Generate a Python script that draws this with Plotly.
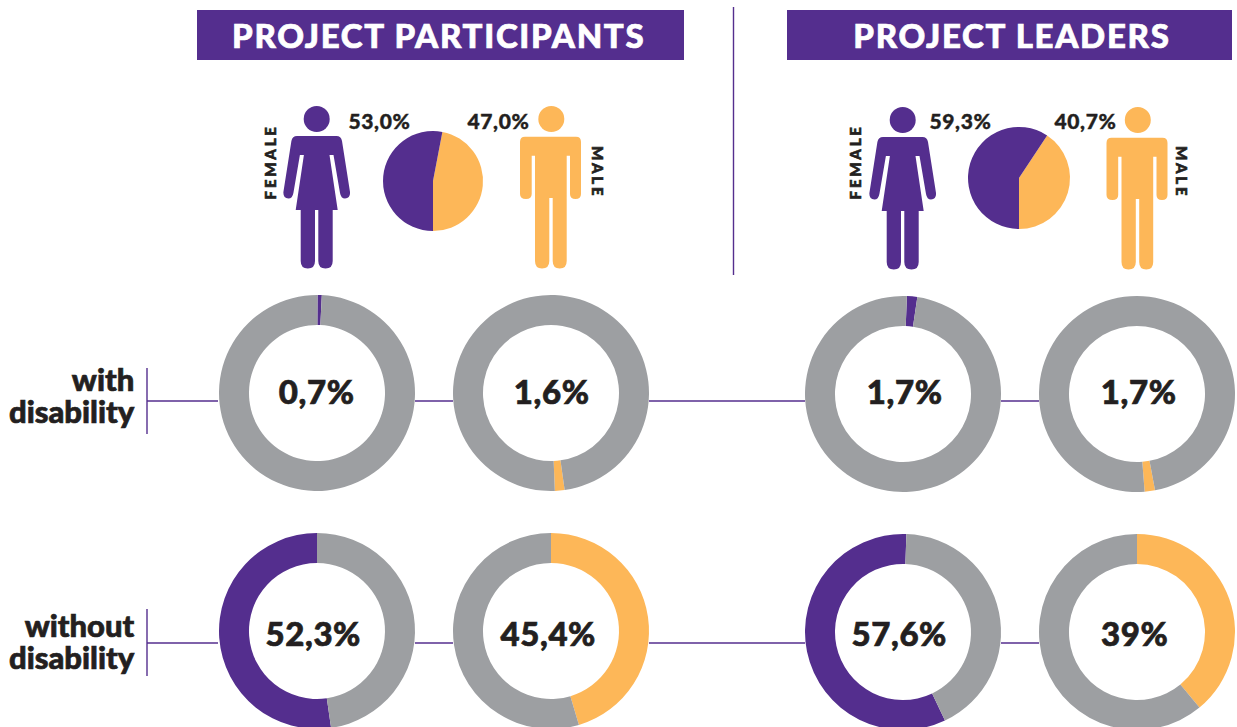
import plotly.graph_objects as go

W, H = 1237, 740  # page clips at 727, the bottom rings run slightly past it
PURPLE, ORANGE, GRAY, INK = "#542E8E", "#FDB758", "#9D9FA2", "#231F20"
FONT = "Lato"

# ---- data ----
headers = ["PROJECT PARTICIPANTS", "PROJECT LEADERS"]
participants_gender = [53.0, 47.0]
leaders_gender = [59.3, 40.7]
gender_text = ["53,0%", "47,0%", "59,3%", "40,7%"]
row_labels = ["with<br>disability", "without<br>disability"]
with_disability = [0.7, 1.6, 1.7, 1.7]
without_disability = [52.3, 45.4, 57.6, 39.0]
with_text = ["0,7%", "1,6%", "1,7%", "1,7%"]
without_text = ["52,3%", "45,4%", "57,6%", "39%"]

# ---- layout helpers ----
def domain(cx, cy, r):
    return dict(x=[(cx - r) / W, (cx + r) / W], y=[1 - (cy + r) / H, 1 - (cy - r) / H])

def pie(vals, colors, cx, cy, r, hole=0, rotation=0):
    return go.Pie(values=vals, marker=dict(colors=colors, line=dict(width=0)), domain=domain(cx, cy, r),
                  hole=hole, rotation=rotation, direction="clockwise", sort=False,
                  textinfo="none", hoverinfo="skip", showlegend=False)

fig = go.Figure()

# gender pies
fig.add_trace(pie(participants_gender[::-1], [ORANGE, PURPLE], 433, 181, 50, rotation=180 - participants_gender[1] * 3.6))
fig.add_trace(pie(leaders_gender[::-1], [ORANGE, PURPLE], 1019, 178, 51, rotation=180 - leaders_gender[1] * 3.6))

# rings
HOLE = 0.694
cols = [317, 551, 903, 1137]
ring_colors = [PURPLE, ORANGE, PURPLE, ORANGE]
rot_top = [0.3, 172, 2.3, 169.4]
# purple arcs run back from the top (so they start value*3.6 degrees before it), orange arcs run forward from it
rot_bot = [-without_disability[0] * 3.6, 0, 2 - without_disability[2] * 3.6, 0]
y_top = [393, 393, 394, 394]
y_bot = [631, 631, 632, 632]
for i, cx in enumerate(cols):
    fig.add_trace(pie([with_disability[i], 100 - with_disability[i]], [ring_colors[i], GRAY], cx, y_top[i], 98,
                      hole=HOLE, rotation=rot_top[i]))
    fig.add_trace(pie([without_disability[i], 100 - without_disability[i]], [ring_colors[i], GRAY], cx, y_bot[i], 98,
                      hole=HOLE, rotation=rot_bot[i]))

# ---- decorations in page pixels ----
shapes = []
def line(x0, y0, x1, y1, w=1.4):
    shapes.append(dict(type="line", x0=x0, y0=y0, x1=x1, y1=y1, line=dict(color=PURPLE, width=w), layer="below"))

def rect(x0, y0, x1, y1):
    shapes.append(dict(type="rect", x0=x0, y0=y0, x1=x1, y1=y1, fillcolor=PURPLE, line=dict(width=0), layer="below"))

def icon(p, dx, dy, color, head_x):
    d = ""
    for s in p:
        c = s[0]
        if c == "H":
            d += f"H{s[1] + dx} "
        elif c == "V":
            d += f"V{s[1] + dy} "
        else:
            vals = [v + (dx if k % 2 == 0 else dy) for k, v in enumerate(s[1:])]
            d += c + ",".join(f"{v}" for v in vals) + " "
    shapes.append(dict(type="path", path=d + "Z", fillcolor=color, line=dict(width=0)))
    shapes.append(dict(type="circle", x0=head_x + dx - 13, x1=head_x + dx + 13, y0=119 + dy - 13, y1=119 + dy + 13,
                       fillcolor=color, line=dict(width=0)))

def woman(dx, dy):
    p = [("M", 297, 136), ("H", 336.5), ("Q", 341, 136, 342, 141), ("L", 350, 192), ("Q", 350.5, 198.5, 345, 198.5),
         ("Q", 341, 198.5, 340, 193), ("L", 333.5, 155), ("H", 329.5), ("L", 337.7, 210), ("H", 332.7), ("V", 261),
         ("Q", 332.7, 268.5, 325.5, 268.5), ("Q", 318.3, 268.5, 318.3, 261), ("V", 210), ("H", 315), ("V", 261),
         ("Q", 315, 268.5, 307.8, 268.5), ("Q", 300.7, 268.5, 300.7, 261), ("V", 210), ("H", 295.7), ("L", 303.9, 155),
         ("H", 299.9), ("L", 293.4, 193), ("Q", 292.4, 198.5, 288.4, 198.5), ("Q", 283, 198.5, 283.4, 192),
         ("L", 291.4, 141), ("Q", 292.4, 136, 297, 136)]
    icon(p, dx, dy, PURPLE, 316.7)

def man(dx, dy):
    p = [("M", 525, 136.7), ("H", 576), ("Q", 581, 136.7, 581, 142), ("V", 194), ("Q", 581, 199, 575.5, 199),
         ("Q", 570, 199, 570, 194), ("V", 155.7), ("H", 566.7), ("V", 261), ("Q", 566.7, 268.5, 559.7, 268.5),
         ("Q", 552.7, 268.5, 552.7, 261), ("V", 198), ("H", 549.3), ("V", 261), ("Q", 549.3, 268.5, 542, 268.5),
         ("Q", 535, 268.5, 535, 261), ("V", 155.7), ("H", 531.7), ("V", 194), ("Q", 531.7, 199, 526, 199),
         ("Q", 520, 199, 520, 194), ("V", 142), ("Q", 520, 136.7, 525, 136.7)]
    icon(p, dx, dy, ORANGE, 551.3)

rect(197, 10, 684, 60)
rect(787, 10, 1232, 60)
line(733.5, 7, 733.5, 275)
woman(0, 0); man(0, 0); woman(586, 1); man(586.5, 1)
for y, y0, y1 in [(401, 368, 434), (643, 609, 676)]:
    line(147, y0, 147, y1)
    for x0, x1 in [(147, 218), (415, 453), (649, 805), (1001, 1039)]:
        line(x0, y, x1, y)

# ---- text ----
ann = []
def text(x, y, s, size, color=INK, anchor="center", angle=0, align="center"):
    ann.append(dict(x=x, y=y, xref="x", yref="y", text=s, showarrow=False, xanchor=anchor, yanchor="middle",
                    textangle=angle, align=align, font=dict(family=FONT, size=size, color=color, weight=900)))

text(438, 34.5, headers[0], 33, "white")
text(1011.5, 34.5, headers[1], 33, "white")
for x, s in zip([379.5, 498, 960.5, 1085], gender_text):
    text(x, 120.5, s, 21)
for x, s in zip([316, 551.5, 904.5, 1138], with_text):
    text(x, 391, s, 33)
for x, s in zip([313.5, 548, 899.5, 1134.5], without_text):
    text(x, 633, s, 33)
for y, s in zip([399, 645], row_labels):
    text(136.5, y, s, 31, anchor="right", align="right")
text(270, 162, "FEMALE", 15, angle=-90)
text(598, 172.5, "MALE", 15, angle=90)
text(855, 162, "FEMALE", 15, angle=-90)
text(1182, 172.5, "MALE", 15, angle=90)

fig.update_layout(
    width=W, height=H, margin=dict(l=0, r=0, t=0, b=0), paper_bgcolor="white", plot_bgcolor="white",
    xaxis=dict(range=[0, W], visible=False, fixedrange=True),
    yaxis=dict(range=[H, 0], visible=False, fixedrange=True),
    shapes=shapes, annotations=ann,
)

# page reset plus the tracking, leading and extra weight the reference's heavy geometric face has
post = """
document.body.style.margin='0';
document.documentElement.style.overflow='hidden';
var spacing={33:0.6,21:0.6,31:0,15:2.8};
document.querySelectorAll('.annotation-text').forEach(function(t){
  var s=Math.round(parseFloat(t.style.fontSize));
  var ls=spacing[s]||0;
  if(s===33 && t.textContent.indexOf('PROJECT')===0) ls=1.7;
  t.style.letterSpacing=ls+'px';
  t.style.stroke=t.style.fill;
  t.style.strokeWidth=(s>=30?0.7:(s>=20?0.4:0.6))+'px';
  t.querySelectorAll('tspan.line').forEach(function(l){ if(parseFloat(l.getAttribute('dy'))>0) l.setAttribute('dy','1.03em'); });
});
"""
fig.write_html("out.html", config=dict(displayModeBar=False), post_script=post)
